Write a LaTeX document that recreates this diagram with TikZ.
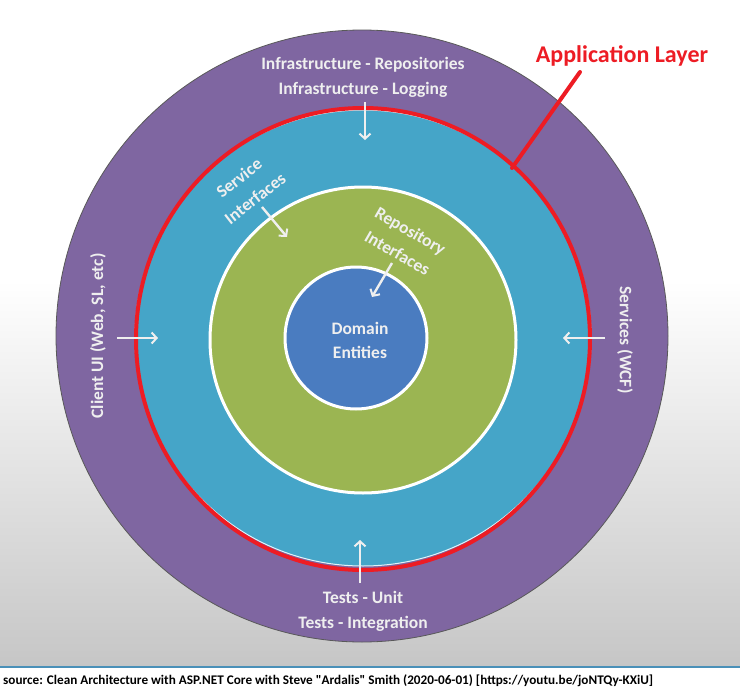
\documentclass[tikz,border=0pt]{standalone}
\usepackage{fontspec}
\setmainfont{Carlito}
\newfontfamily\srcfont{Carlito}
\usetikzlibrary{arrows.meta,shapes.geometric}
\definecolor{purp}{HTML}{7F66A1}
\definecolor{teal}{HTML}{45A5C8}
\definecolor{grn}{HTML}{9BB552}
\definecolor{dom}{HTML}{4A7CC0}
\definecolor{redl}{HTML}{ED1C24}
\definecolor{txtw}{HTML}{EFEFEF}
\definecolor{bggray}{HTML}{C6C6C6}
\definecolor{rule}{HTML}{4A90B8}
\tikzset{
  ring/.style={circle, inner sep=0pt, minimum size=#1},
  lbl/.style={text=txtw, font=\bfseries\fontsize{17.5}{25}\selectfont, align=center, inner sep=0pt},
  warrow/.style={draw=txtw, line width=2.4pt, -{Straight Barb[length=5pt,width=11pt,line width=2pt]}},
}
\begin{document}
\begin{tikzpicture}[x=1pt,y=-1pt]
\useasboundingbox (0,0) rectangle (740,691);
\fill[white] (0,0) rectangle (740,691);
\shade[top color=white, bottom color=bggray] (0,280) rectangle (740,667);
\draw[rule, line width=1.5pt] (0,667) -- (740,667);
% circles
\node[ring=612pt, fill=purp, draw=black!65, line width=0.8pt] (outer) at (362,336) {};
\node[ring=456pt, fill=teal, draw=white!85!teal, line width=1pt] (app) at (363,338) {};
\node[ring=306pt, fill=grn, draw=white, line width=3pt] (core) at (363,340) {};
\node[ring=142pt, fill=dom, draw=white, line width=3pt] (domain) at (356,338) {};
\node[ellipse, draw=redl, line width=4pt, inner sep=0pt, minimum width=454pt, minimum height=462pt] (redring) at (363,339) {};
% labels
\node[lbl] (infra) at (363,77) {Infrastructure - Repositories\\Infrastructure - Logging};
\node[lbl] (tests) at (363,611) {Tests - Unit\\Tests - Integration};
\node[lbl, rotate=90] (client) at (98,336) {Client UI (Web, SL, etc)};
\node[lbl, rotate=-90] (services) at (625,340) {Services (WCF)};
\node[lbl, font=\bfseries\fontsize{17.5}{26}\selectfont, rotate=38] (svcif) at (247,188) {Service\\Interfaces};
\node[lbl, font=\bfseries\fontsize{17.5}{26}\selectfont, rotate=-30] (repoif) at (404,242) {Repository\\Interfaces};
\node[lbl, font=\bfseries\fontsize{17.5}{24}\selectfont] (domtxt) at (360,340) {Domain\\Entities};
\node[text=redl, font=\bfseries\fontsize{24}{28}\selectfont, inner sep=0pt] (applbl) at (622,56) {Application Layer};
\node[anchor=west, font=\srcfont\bfseries\fontsize{13.2}{15}\selectfont, inner sep=0pt] (src) at (3,681) {source: Clean Architecture with ASP.NET Core with Steve "Ardalis" Smith (2020-06-01) [https://youtu.be/joNTQy-KXiU]};
% arrow coordinates
\coordinate (t1) at (365,102); \coordinate (t2) at (365,140);
\coordinate (b1) at (360,583); \coordinate (b2) at (360,540);
\coordinate (l1) at (117,338); \coordinate (l2) at (158,338);
\coordinate (r1) at (605,338); \coordinate (r2) at (563,338);
\coordinate (s1) at (262,207); \coordinate (s2) at (287,237);
\coordinate (p1) at (392,263); \coordinate (p2) at (372,297);
\coordinate (a1) at (580,72); \coordinate (a2) at (512,168);
\draw[warrow] (t1) -- (t2);
\draw[warrow] (b1) -- (b2);
\draw[warrow] (l1) -- (l2);
\draw[warrow] (r1) -- (r2);
\draw[warrow] (s1) -- (s2);
\draw[warrow] (p1) -- (p2);
\draw[redl, line width=4pt, line cap=round] (a1) -- (a2);
\end{tikzpicture}
\end{document}
